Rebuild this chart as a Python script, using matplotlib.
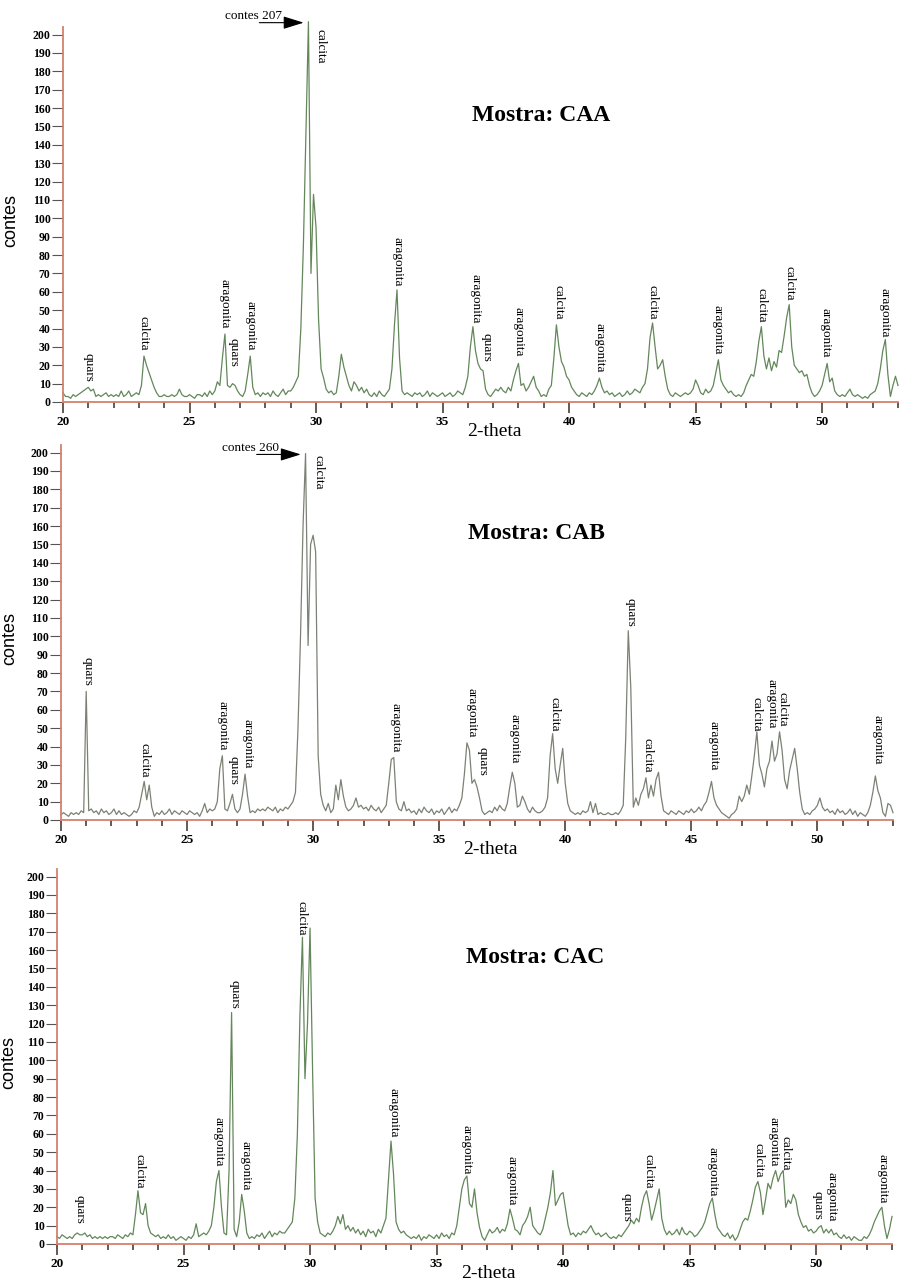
import numpy as np
import matplotlib
matplotlib.use("Agg")
import matplotlib.pyplot as plt
from matplotlib.ticker import MultipleLocator

plt.rcParams['font.family'] = ['Liberation Serif', 'DejaVu Serif']

# 2-theta sampled every 0.1 degree, 20 .. 53
theta = np.round(np.arange(200, 531) / 10.0, 1)

# counts (one row = one degree)
caa_counts = [
    5, 3, 3, 2, 4, 3, 4, 5, 6, 7,
    8, 6, 7, 3, 4, 3, 4, 5, 3, 4,
    3, 4, 3, 6, 3, 4, 6, 3, 4, 5,
    4, 9, 25, 20, 16, 12, 8, 5, 3, 3,
    4, 3, 3, 4, 3, 4, 7, 4, 3, 3,
    4, 3, 2, 4, 4, 3, 5, 3, 6, 4,
    6, 11, 9, 24, 37, 9, 8, 10, 9, 6,
    4, 3, 6, 15, 25, 8, 4, 5, 3, 5,
    4, 5, 3, 6, 4, 3, 5, 7, 4, 6,
    6, 8, 11, 14, 40, 85, 146, 207, 70, 113,
    95, 45, 18, 13, 7, 5, 6, 4, 5, 14,
    26, 19, 14, 9, 6, 11, 9, 6, 8, 5,
    7, 4, 3, 5, 3, 6, 4, 3, 5, 7,
    18, 42, 61, 24, 6, 4, 5, 4, 3, 5,
    4, 5, 3, 4, 6, 3, 5, 4, 3, 4,
    5, 3, 4, 5, 3, 4, 6, 5, 4, 8,
    14, 30, 41, 28, 21, 18, 17, 7, 4, 3,
    5, 7, 6, 8, 6, 5, 8, 6, 12, 17,
    21, 9, 10, 6, 8, 11, 14, 8, 6, 3,
    4, 3, 7, 9, 24, 42, 30, 22, 19, 14,
    12, 8, 6, 4, 3, 5, 4, 3, 5, 4,
    6, 9, 13, 8, 5, 6, 4, 5, 3, 4,
    5, 3, 4, 6, 4, 5, 7, 6, 5, 8,
    10, 18, 35, 43, 30, 18, 20, 23, 14, 7,
    4, 3, 5, 4, 3, 4, 5, 4, 5, 7,
    12, 9, 5, 4, 7, 5, 6, 9, 16, 23,
    12, 9, 7, 5, 6, 4, 3, 4, 3, 5,
    9, 12, 15, 14, 22, 33, 41, 25, 18, 24,
    17, 22, 19, 28, 27, 36, 46, 53, 30, 20,
    18, 16, 17, 14, 15, 9, 5, 3, 4, 6,
    9, 15, 21, 11, 13, 6, 4, 3, 4, 3,
    5, 7, 4, 3, 4, 3, 2, 3, 2, 4,
    5, 6, 10, 18, 28, 34, 15, 3, 9, 14,
    9,
]

cab_counts = [
    3, 4, 3, 2, 4, 3, 4, 3, 5, 4,
    70, 5, 6, 4, 5, 3, 6, 4, 5, 3,
    4, 6, 3, 5, 3, 4, 3, 2, 3, 5,
    4, 7, 14, 21, 11, 19, 7, 2, 4, 3,
    5, 3, 4, 6, 3, 5, 4, 3, 5, 4,
    3, 5, 4, 3, 4, 2, 5, 9, 4, 6,
    5, 6, 10, 28, 35, 6, 5, 9, 14, 6,
    4, 6, 14, 25, 13, 4, 5, 4, 6, 5,
    6, 5, 7, 6, 5, 7, 4, 6, 5, 7,
    6, 8, 10, 15, 50, 100, 160, 260, 95, 150,
    155, 146, 35, 14, 8, 5, 9, 4, 6, 19,
    11, 22, 13, 7, 5, 6, 8, 12, 7, 8,
    6, 7, 5, 8, 6, 5, 7, 4, 6, 8,
    20, 33, 34, 10, 6, 5, 10, 5, 6, 4,
    5, 3, 6, 4, 7, 5, 4, 6, 3, 5,
    4, 6, 3, 5, 7, 4, 6, 5, 8, 12,
    25, 42, 38, 20, 22, 18, 12, 5, 3, 4,
    5, 4, 7, 5, 8, 6, 5, 9, 18, 26,
    20, 7, 8, 13, 10, 6, 4, 7, 5, 4,
    4, 5, 7, 12, 35, 47, 28, 20, 30, 39,
    20, 9, 5, 4, 3, 4, 3, 5, 4, 5,
    10, 4, 9, 3, 4, 3, 3, 4, 3, 3,
    4, 3, 5, 8, 45, 103, 72, 7, 12, 8,
    14, 17, 23, 12, 19, 13, 22, 26, 13, 5,
    4, 3, 5, 4, 3, 5, 4, 3, 5, 4,
    6, 4, 5, 7, 5, 8, 10, 15, 21, 12,
    8, 6, 4, 3, 2, 1, 3, 4, 6, 13,
    10, 13, 19, 14, 24, 35, 48, 30, 25, 18,
    28, 32, 43, 32, 36, 48, 38, 22, 17, 27,
    33, 39, 28, 15, 6, 3, 4, 3, 5, 6,
    8, 12, 7, 5, 6, 4, 5, 3, 6, 4,
    5, 3, 4, 6, 3, 5, 2, 4, 3, 2,
    4, 8, 15, 24, 16, 12, 4, 2, 9, 8,
    4,
]

cac_counts = [
    4, 3, 5, 4, 3, 4, 3, 5, 6, 5,
    5, 6, 4, 5, 3, 4, 3, 4, 3, 4,
    3, 4, 4, 3, 5, 4, 3, 5, 4, 6,
    5, 16, 29, 17, 16, 22, 10, 6, 5, 4,
    5, 3, 4, 3, 5, 3, 4, 2, 3, 4,
    3, 2, 4, 3, 5, 11, 4, 5, 6, 5,
    7, 10, 20, 34, 40, 20, 6, 5, 40, 126,
    8, 4, 12, 27, 18, 6, 3, 4, 3, 5,
    4, 6, 3, 5, 7, 4, 6, 5, 7, 6,
    6, 8, 10, 12, 25, 60, 124, 167, 90, 120,
    172, 95, 25, 12, 6, 5, 4, 6, 5, 7,
    10, 15, 11, 16, 8, 10, 7, 9, 6, 8,
    5, 7, 4, 8, 6, 7, 4, 8, 6, 10,
    14, 35, 56, 38, 12, 8, 6, 7, 5, 4,
    3, 4, 3, 5, 2, 4, 3, 5, 4, 3,
    5, 3, 6, 4, 5, 3, 6, 5, 10, 20,
    30, 35, 37, 22, 20, 30, 17, 9, 4, 2,
    5, 8, 6, 7, 9, 6, 8, 7, 11, 19,
    14, 8, 7, 5, 10, 12, 15, 20, 10, 8,
    6, 5, 8, 14, 20, 28, 40, 21, 24, 27,
    28, 19, 10, 5, 6, 4, 6, 5, 7, 6,
    8, 10, 7, 5, 6, 4, 5, 6, 4, 3,
    4, 3, 5, 4, 6, 8, 10, 13, 11, 14,
    12, 20, 26, 29, 22, 13, 18, 24, 30, 14,
    8, 5, 7, 5, 6, 8, 5, 9, 6, 5,
    7, 6, 4, 5, 7, 9, 12, 17, 22, 25,
    16, 9, 7, 5, 4, 6, 3, 5, 2, 4,
    8, 12, 14, 13, 18, 24, 31, 34, 28, 16,
    24, 33, 30, 36, 40, 34, 38, 40, 20, 24,
    22, 27, 24, 16, 12, 9, 10, 7, 8, 6,
    7, 9, 10, 6, 8, 6, 8, 5, 6, 4,
    3, 5, 3, 4, 2, 4, 3, 2, 2, 4,
    3, 5, 8, 12, 15, 18, 20, 10, 3, 8,
    15,
]

# mineral labels: (name, 2-theta, counts just under the label)
caa_peaks = [
    ("quars", 21.0, 11), ("calcita", 23.2, 28), ("aragonita", 26.4, 40),
    ("quars", 26.75, 19), ("aragonita", 27.4, 28), ("calcita", 30.17, 184),
    ("aragonita", 33.2, 63), ("aragonita", 36.3, 43), ("quars", 36.75, 22),
    ("aragonita", 38.0, 25), ("calcita", 39.6, 45), ("aragonita", 41.2, 16),
    ("calcita", 43.3, 45), ("aragonita", 45.85, 26), ("calcita", 47.6, 43),
    ("calcita", 48.7, 55), ("aragonita", 50.15, 24), ("aragonita", 52.45, 35),
]
cab_peaks = [
    ("quars", 21.05, 73), ("calcita", 23.3, 23), ("aragonita", 26.4, 38),
    ("quars", 26.85, 19), ("aragonita", 27.4, 28), ("calcita", 30.2, 180),
    ("aragonita", 33.25, 37), ("aragonita", 36.3, 45), ("quars", 36.72, 24),
    ("aragonita", 37.97, 31), ("calcita", 39.57, 48), ("quars", 42.6, 105),
    ("calcita", 43.28, 26), ("aragonita", 45.9, 27), ("calcita", 47.58, 48),
    ("aragonita", 48.17, 50), ("calcita", 48.62, 51), ("aragonita", 52.4, 30),
]
cac_peaks = [
    ("quars", 20.9, 11), ("calcita", 23.25, 30), ("aragonita", 26.4, 42),
    ("quars", 27.0, 128), ("aragonita", 27.45, 29), ("calcita", 29.67, 168),
    ("aragonita", 33.3, 58), ("aragonita", 36.18, 38), ("aragonita", 37.96, 21),
    ("quars", 42.5, 12), ("calcita", 43.39, 30), ("aragonita", 45.92, 26),
    ("calcita", 47.73, 36), ("aragonita", 48.3, 42), ("calcita", 48.78, 40),
    ("quars", 50.07, 13), ("aragonita", 50.6, 12), ("aragonita", 52.63, 22),
]

samples = ["CAA", "CAB", "CAC"]
max_counts = [207, 260, None]   # arrow notes on the off-scale peaks

# axes boxes in pixels: left, y of zero line, width, ylabel offset
boxes = [(63, 402, 835, 44), (61, 820, 832, 43), (57, 1244, 835, 40)]
line_colors = ["#63875a", "#7b8274", "#63875a"]
spine_col = "#d4806c"
tick_col = "#3a2c24"

W, H = 900, 1288
fig = plt.figure(figsize=(W / 100, H / 100), dpi=100)

for i, (name, counts, peaks) in enumerate(zip(samples,
                                               [caa_counts, cab_counts, cac_counts],
                                               [caa_peaks, cab_peaks, cac_peaks])):
    left, y0, width, lab_off = boxes[i]
    hgt = 204 * 1.837
    ax = fig.add_axes([left / W, (H - y0) / H, width / W, hgt / H])
    counts = np.array(counts, dtype=float)
    shown = np.minimum(counts, 199.5) if i == 1 else counts
    ax.plot(theta, shown, color=line_colors[i], lw=0.9, clip_on=False)

    ax.set_xlim(20, 53)
    ax.set_ylim(0, 204)
    for s in ["top", "right"]:
        ax.spines[s].set_visible(False)
    for s in ["left", "bottom"]:
        ax.spines[s].set_color(spine_col)
        ax.spines[s].set_linewidth(1.3)

    ax.set_xticks(range(20, 51, 5))
    ax.xaxis.set_minor_locator(MultipleLocator(1))
    ax.set_yticks(range(0, 201, 10))
    ax.tick_params(axis="x", which="major", direction="out", length=8, width=1.1,
                   color=tick_col, labelsize=9.5, pad=2)
    ax.tick_params(axis="x", which="minor", direction="out", length=4, width=1.1,
                   color=tick_col)
    ax.tick_params(axis="y", direction="out", length=8, width=0.8,
                   color="#555555", labelsize=8.5, pad=1)
    for lbl in ax.get_xticklabels() + ax.get_yticklabels():
        lbl.set_fontweight("bold")

    ax.set_ylabel("contes", fontfamily="Liberation Sans", fontsize=13)
    ax.yaxis.set_label_coords(-lab_off / width, 0.485)

    ax.annotate("2-theta", xy=(37.05, 0), xytext=(0, -29), textcoords="offset pixels",
                ha="center", va="center", fontsize=14, annotation_clip=False)

    ax.text(36.15, 156, "Mostra: " + name, fontsize=17, fontweight="bold",
            ha="left", va="center")

    for label, x, y in peaks:
        ax.text(x, y, label, rotation=-90, ha="center", va="bottom", fontsize=9.5)

    if max_counts[i] is not None:
        ytop = 206.5 if i == 0 else 199
        ax.annotate("", xy=(29.62, ytop), xytext=(27.65, ytop),
                    arrowprops=dict(arrowstyle="-|>,head_length=0.9,head_width=0.28",
                                    color="black", lw=0.8, mutation_scale=14),
                    annotation_clip=False)
        ax.text(26.4, ytop + 0.5, "contes %d" % max_counts[i], fontsize=9.5,
                ha="left", va="bottom", clip_on=False)

fig.savefig("out.png", dpi=100)
